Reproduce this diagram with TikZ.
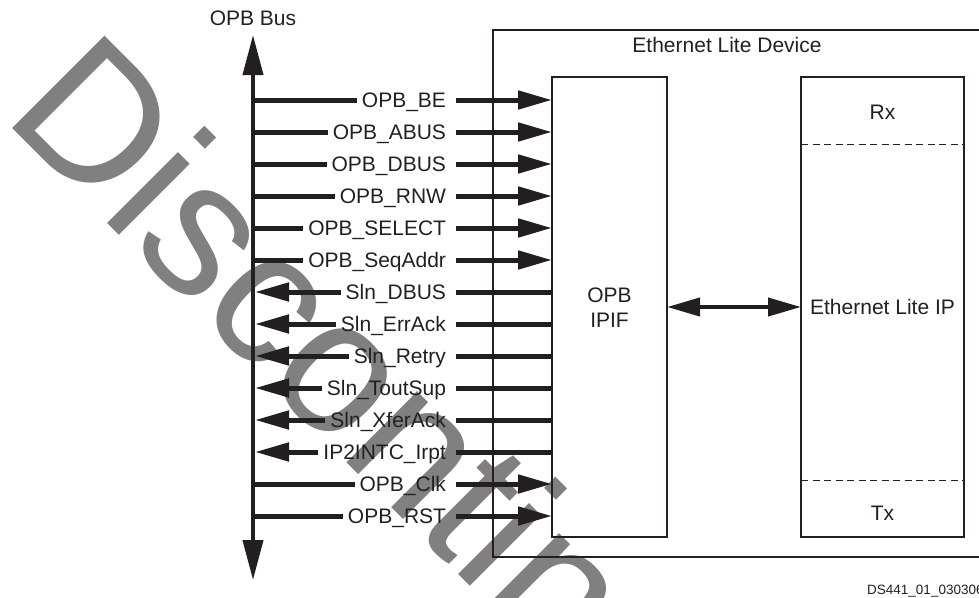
\documentclass[tikz,border=0pt]{standalone}
\usepackage{fontspec}
\setmainfont{Liberation Sans}
\usetikzlibrary{arrows.meta}
\definecolor{ink}{HTML}{231F20}
\definecolor{wm}{HTML}{808080}
\begin{document}
\begin{tikzpicture}[x=1pt,y=-1pt,
  sig/.style={font=\fontsize{21}{25}\selectfont, text=ink, anchor=east, inner xsep=5pt, inner ysep=0pt, text height=15pt, text depth=0pt, outer sep=0pt},
  lbl/.style={font=\fontsize{21}{25}\selectfont, text=ink},
  wire/.style={line width=5pt, draw=ink},
  tipR/.style={-{Triangle[length=34pt,width=18pt]}},
  tipL/.style={{Triangle[length=34pt,width=18pt]}-},
  box/.style={draw=ink, line width=2pt, inner sep=0pt, outer sep=0pt},
  divider/.style={draw=ink, line width=1pt, dash pattern=on 7pt off 4.5pt},
]
\useasboundingbox (0,0) rectangle (979,597);
\clip (0,0) rectangle (979,597);
% watermark
\node[rotate=-45, anchor=base west, font=\fontsize{190}{190}\selectfont, text=wm, inner sep=0pt] (wmk) at (1.4,117.4) {Discontinued};
% device box
\node[box, line width=1.8pt, minimum width=520pt, minimum height=527pt, anchor=north west] (dev) at (493,30) {};
\node[lbl] (devtitle) at (727,45) {Ethernet Lite Device};
% IPIF
\node[box, minimum width=115pt, minimum height=460pt] (ipif) at (609.5,307) {};
\node[lbl, align=center] (ipiftxt) at (609.5,307.5) {OPB\\IPIF};
% Ethernet Lite IP
\node[box, minimum width=163pt, minimum height=460pt] (eip) at (882.5,307) {};
\node[lbl] (eiptxt) at (eip.center) {Ethernet Lite IP};
\node[lbl] (rx) at (882.5,112) {Rx};
\node[lbl] (tx) at (882.5,513) {Tx};
\coordinate (d1) at (0,144);
\coordinate (d2) at (0,480);
\draw[divider] (eip.west |- d1) -- (eip.east |- d1);
\draw[divider] (eip.west |- d2) -- (eip.east |- d2);
\draw[line width=4pt, draw=ink, {Triangle[length=33pt,width=18pt]}-{Triangle[length=33pt,width=18pt]}] (ipif.east) -- (eip.west);
% bus
\node[lbl] (busl) at (253,18) {OPB Bus};
\coordinate (btop) at (253,35);
\coordinate (bbot) at (253,580);
\coordinate (bedge) at (255,35);
\draw[line width=4pt, draw=ink, {Triangle[length=40pt,width=20pt]}-{Triangle[length=40pt,width=20pt]}] (btop) -- (bbot);
% signals
\foreach \i/\nm/\dir in {0/OPB\_BE/o, 1/OPB\_ABUS/o, 2/OPB\_DBUS/o, 3/OPB\_RNW/o, 4/OPB\_SELECT/o, 5/OPB\_SeqAddr/o, 6/Sln\_DBUS/i, 7/Sln\_ErrAck/i, 8/Sln\_Retry/i, 9/Sln\_ToutSup/i, 10/Sln\_XferAck/i, 11/IP2INTC\_Irpt/i, 12/OPB\_Clk/o, 13/OPB\_RST/o}{
  \node[sig] (s\i) at (451,{100+32*\i}) {\nm};
  \if o\dir
    \draw[wire] (btop |- s\i) -- (s\i.west);
    \draw[wire, tipR] ([xshift=5pt]s\i.east) -- (ipif.west |- s\i);
  \else
    \draw[wire, tipL] (bedge |- s\i) -- (s\i.west);
    \draw[wire] ([xshift=5pt]s\i.east) -- (ipif.west |- s\i);
  \fi
}
\node[anchor=base west, font=\fontsize{13.5}{15}\selectfont, text=ink, inner sep=0pt] (fig) at (867,594) {DS441\_01\_030306};
\end{tikzpicture}
\end{document}
